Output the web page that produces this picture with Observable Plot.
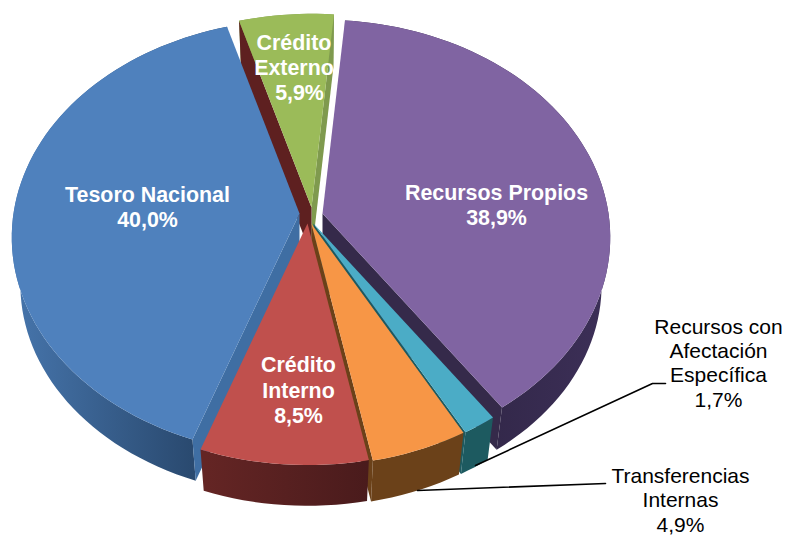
<!DOCTYPE html>
<html lang="es">
<head>
<meta charset="utf-8">
<script src="https://cdn.jsdelivr.net/npm/d3@7"></script>
<script src="https://cdn.jsdelivr.net/npm/@observablehq/plot@0.6"></script>
<style>html,body{margin:0;padding:0;background:#fff}svg{display:block}</style>
</head>
<body>
<div id="chart"></div>
<script>
// DATA
const categories = ["Recursos Propios", "Recursos con Afectación Específica", "Transferencias Internas", "Crédito Interno", "Tesoro Nacional", "Crédito Externo"];
const shares = [38.9, 1.7, 4.9, 8.5, 40.0, 5.9];
const shareLabels = ["38,9%", "1,7%", "4,9%", "8,5%", "40,0%", "5,9%"];

// STYLE
const topColors = ["#8064a2", "#4bacc6", "#f79646", "#c0504d", "#4f81bd", "#9bbb59"];
const outerColors = ["url(#wPurple)", "#1d5a60", "#6b4119", "url(#wRed)", "url(#wBlue)", "#7f9a4e"];
const cutColors = ["#352a4a", "#1d5a60", "#6b4119", "#5e2020", "#3f6ea3", "#7f9a4e"];
const startCutColors = ["#352a4a", "#1d5a60", "#6b4119", "#5e2020", "#3f6ea3", "#5e2020"];
// apex of each exploded slice on the page
const apexX = [322, 313, 311, 307, 299, 311];
const apexY = [213, 223, 223.5, 223, 213, 207];
const paintOrder = [5, 0, 4, 1, 2, 3];

// 3D projection of the pie
const rx = 286, ry = 215, persp = 0.11, depth = 48, shrink = 0.97;
const startDeg = 5;
const rad = Math.PI / 180;

const pie = d3.pie().sort(null).startAngle(startDeg * rad).endAngle((startDeg + 360) * rad);
const slices = pie(shares);

const rim = (i, a) => {
  const w = 1 + persp * Math.cos(a);
  return {x: apexX[i] + rx * Math.sin(a) / w, y: apexY[i] - ry * Math.cos(a) / w};
};
const lower = (i, p) => ({
  x: apexX[i] + (p.x - apexX[i]) * shrink,
  y: apexY[i] + (p.y - apexY[i]) * shrink + depth
});
const arcPts = (i, a0, a1) => {
  const n = Math.max(4, Math.ceil((a1 - a0) / (2 * rad)));
  return d3.range(n + 1).map(k => rim(i, a0 + (a1 - a0) * k / n));
};
const face = (pts, fill) => Plot.line(pts, {x: "x", y: "y", fill, stroke: "none", curve: "linear"});
const norm = a => ((a % (2 * Math.PI)) + 2 * Math.PI) % (2 * Math.PI);

const marks = [];
marks.push(() => {
  const defs = d3.create("svg:defs");
  const grad = (id, x1, x2, c1, c2) => {
    const g = defs.append("linearGradient").attr("id", id).attr("gradientUnits", "userSpaceOnUse")
      .attr("x1", x1).attr("x2", x2).attr("y1", 0).attr("y2", 0);
    g.append("stop").attr("offset", "0%").attr("stop-color", c1);
    g.append("stop").attr("offset", "100%").attr("stop-color", c2);
  };
  grad("wBlue", 20, 190, "#4573a9", "#2a4a70");
  grad("wRed", 205, 367, "#642524", "#4a1b1c");
  grad("wPurple", 490, 605, "#33284a", "#3c2f57");
  return defs.node();
});

for (const i of paintOrder) {
  const s = slices[i];
  const a0 = s.startAngle, a1 = s.endAngle;
  const apex = {x: apexX[i], y: apexY[i]};
  const apexLow = lower(i, apex);
  const arc = arcPts(i, a0, a1);
  // outer wall
  marks.push(face([...arc, ...arc.map(p => lower(i, p)).reverse()], outerColors[i]));
  // cut walls seen from the viewer's side
  if (norm(a1) < Math.PI) {
    const p = rim(i, a1);
    marks.push(face([apex, p, lower(i, p), apexLow], cutColors[i]));
  }
  if (norm(a0) > Math.PI) {
    const p = rim(i, a0);
    marks.push(face([apex, p, lower(i, p), apexLow], startCutColors[i]));
  }
  // top face
  marks.push(face([apex, ...arc], topColors[i]));
}

// Leader lines
const leaderTeal = [{x: 475, y: 465}, {x: 652, y: 383}, {x: 665, y: 383}];
const leaderOrange = [{x: 417, y: 490}, {x: 605, y: 483}];
marks.push(Plot.line(leaderTeal, {x: "x", y: "y", stroke: "#000", strokeWidth: 1.6}));
marks.push(Plot.line(leaderOrange, {x: "x", y: "y", stroke: "#000", strokeWidth: 1.6}));

// Labels
const insideLabels = [
  {text: "Recursos Propios\n" + shareLabels[0], x: 496, y: 203.5},
  {text: "Crédito\nInterno\n" + shareLabels[3], x: 298, y: 389},
  {text: "Tesoro Nacional\n" + shareLabels[4], x: 147, y: 205.5},
  {text: "Crédito\nExterno", x: 293.5, y: 53.5},
  {text: shareLabels[5], x: 299, y: 91}
];
const outsideLabels = [
  {text: "Recursos con\nAfectación\nEspecífica\n" + shareLabels[1], x: 718, y: 362},
  {text: "Transferencias\nInternas\n" + shareLabels[2], x: 680, y: 499}
];
marks.push(Plot.text(insideLabels, {x: "x", y: "y", text: "text", fill: "#fff", fontWeight: "bold", fontSize: 21.4, lineHeight: 1.17, lineAnchor: "middle", textAnchor: "middle", fontFamily: "Liberation Sans"}));
marks.push(Plot.text(outsideLabels, {x: "x", y: "y", text: "text", fill: "#000", fontSize: 21, lineHeight: 1.157, lineAnchor: "middle", textAnchor: "middle", fontFamily: "Liberation Sans"}));

const chart = Plot.plot({
  width: 785, height: 535,
  margin: 0,
  style: {background: "#fff", fontFamily: "Liberation Sans"},
  x: {type: "linear", domain: [0, 785], range: [0, 785], axis: null},
  y: {type: "linear", domain: [0, 535], range: [0, 535], axis: null},
  marks
});
document.getElementById("chart").appendChild(chart);
</script>
</body>
</html>
